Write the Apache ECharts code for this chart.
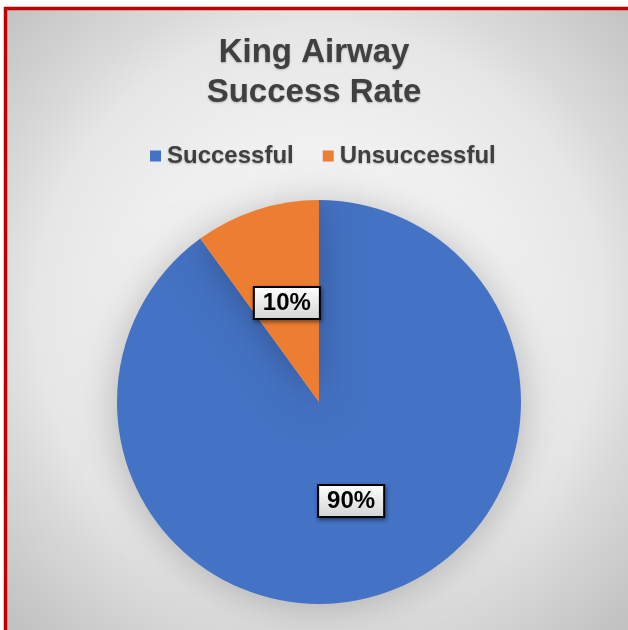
<!DOCTYPE html>
<html>
<head>
<meta charset="utf-8">
<script src="https://cdn.jsdelivr.net/npm/echarts@6/dist/echarts.min.js"></script>
<style>
html,body{margin:0;padding:0;background:#ffffff;}
#chart{width:628px;height:630px;}
</style>
</head>
<body>
<div id="chart"></div>
<script>
const titleText = 'King Airway\nSuccess Rate';
const categories = ['Successful', 'Unsuccessful'];
const values = [90, 10];
const colors = ['#4472C4', '#ED7D31'];

const chart = echarts.init(document.getElementById('chart'), null, {renderer: 'canvas'});
const font = '"Liberation Sans", Arial, sans-serif';

const option = {
  animation: false,
  backgroundColor: '#ffffff',
  graphic: [{
    type: 'rect',
    z: -10,
    silent: true,
    shape: {x: 5.5, y: 8.5, width: 700, height: 700},
    style: {
      stroke: '#C00000',
      lineWidth: 3.5,
      fill: new echarts.graphic.RadialGradient(313.5 / 700, 301.5 / 700, 0.62, [
        {offset: 0, color: '#fbfbfb'},
        {offset: 0.4, color: '#f0f0f0'},
        {offset: 0.65, color: '#e6e6e6'},
        {offset: 0.75, color: '#dadada'},
        {offset: 1, color: '#c2c2c2'}
      ])
    }
  }],
  title: {
    text: titleText,
    left: 'center',
    top: 28,
    padding: [5, 0, 5, 8],
    textStyle: {
      fontFamily: font,
      fontSize: 33,
      fontWeight: 'bold',
      color: '#404040',
      lineHeight: 40,
      textShadowColor: 'rgba(0,0,0,0.25)',
      textShadowBlur: 2,
      textShadowOffsetY: 1
    }
  },
  legend: {
    data: categories,
    top: 139,
    left: 145,
    icon: 'rect',
    itemWidth: 11,
    itemHeight: 11,
    itemGap: 29,
    textStyle: {
      fontFamily: font,
      fontSize: 24,
      fontWeight: 'bold',
      color: '#404040',
      padding: [0, 0, 0, 1],
      textShadowColor: 'rgba(0,0,0,0.25)',
      textShadowBlur: 2,
      textShadowOffsetY: 1
    }
  },
  series: [{
    type: 'pie',
    center: [319, 402],
    radius: [0, 202],
    startAngle: 90,
    clockwise: true,
    avoidLabelOverlap: false,
    data: categories.map((c, i) => ({
      name: c,
      value: values[i],
      itemStyle: {color: colors[i]}
    })),
    itemStyle: {
      shadowBlur: 40,
      shadowColor: 'rgba(0,0,0,0.25)',
      shadowOffsetY: 4
    },
    label: {
      show: true,
      position: 'inside',
      formatter: p => Math.round(p.percent) + '%',
      fontFamily: font,
      fontSize: 24,
      fontWeight: 'bold',
      color: '#000000',
      lineHeight: 26,
      padding: [3, 8, 1, 8],
      borderColor: '#000000',
      borderWidth: 2,
      backgroundColor: new echarts.graphic.LinearGradient(0, 0, 0, 1, [
        {offset: 0, color: '#ffffff'},
        {offset: 1, color: '#d4d4d4'}
      ]),
      shadowColor: 'rgba(0,0,0,0.4)',
      shadowBlur: 4,
      shadowOffsetX: 1,
      shadowOffsetY: 2
    },
    labelLine: {show: false},
    emphasis: {disabled: true}
  }]
};
chart.setOption(option);
</script>
</body>
</html>
